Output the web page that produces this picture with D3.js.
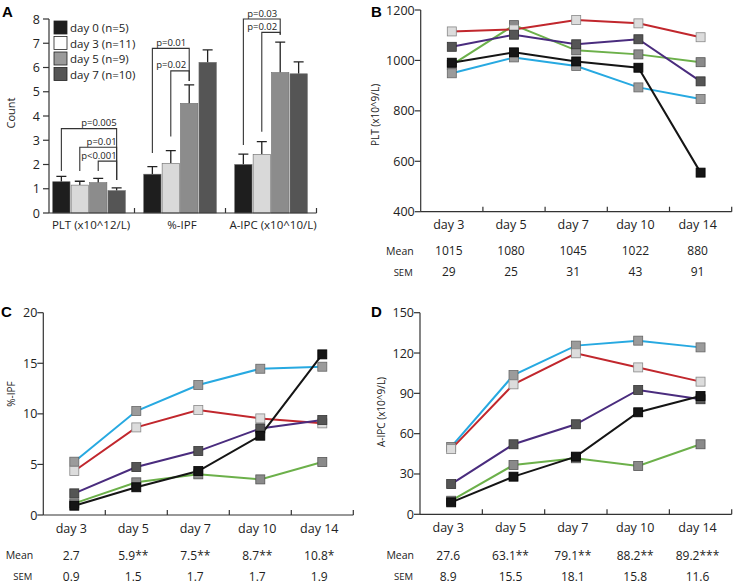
<!DOCTYPE html>
<html><head><meta charset="utf-8">
<script src="https://cdn.jsdelivr.net/npm/d3@7"></script>
<style>
body{margin:0;background:#fff;}
svg{display:block;font-family:"Open Sans",sans-serif;}
</style></head>
<body><svg id="c" width="736" height="584"></svg>
<script>
// ---------- Panel A data ----------
const groupsA = ["PLT (x10^12/L)", "%-IPF", "A-IPC (x10^10/L)"];
const seriesA = ["day 0 (n=5)", "day 3 (n=11)", "day 5 (n=9)", "day 7 (n=10)"];
const meanA_PLT = [1.29, 1.15, 1.25, 0.92];
const meanA_IPF = [1.60, 2.05, 4.52, 6.21];
const meanA_IPC = [2.00, 2.42, 5.79, 5.74];
const semA_PLT = [0.22, 0.16, 0.18, 0.12];
const semA_IPF = [0.31, 0.52, 0.76, 0.52];
const semA_IPC = [0.43, 0.52, 1.26, 0.49];
const ticksA = [0, 1, 2, 3, 4, 5, 6, 7, 8];
// significance brackets: group, bar a, bar b, level, left drop, right drop, label
const bracketsA = [
  {g: 0, a: 0, b: 3, y: 3.48, ya: 1.73, yb: 1.36, label: "p=0.005"},
  {g: 0, a: 1, b: 3, y: 2.71, ya: 1.73, yb: 1.36, label: "p=0.01"},
  {g: 0, a: 2, b: 3, y: 2.14, ya: 1.73, yb: 1.36, label: "p<0.001"},
  {g: 1, a: 0, b: 2, y: 6.79, ya: 2.47, yb: 5.44, label: "p=0.01"},
  {g: 1, a: 1, b: 2, y: 5.86, ya: 3.15, yb: 5.44, label: "p=0.02"},
  {g: 2, a: 0, b: 2, y: 8.00, ya: 2.80, yb: 7.35, label: "p=0.03"},
  {g: 2, a: 1, b: 2, y: 7.45, ya: 3.35, yb: 7.35, label: "p=0.02"}
];

// ---------- Line panels data ----------
const days = ["day 3", "day 5", "day 7", "day 10", "day 14"];
// Panel B: PLT
const pltRed    = [1115, 1123, 1160, 1147, 1092];
const pltPurple = [1054, 1102, 1064, 1084, 917];
const pltGreen  = [982, 1140, 1040, 1024, 993];
const pltBlack  = [991, 1032, 996, 971, 555];
const pltBlue   = [949, 1012, 978, 893, 847];
const pltMean = ["1015", "1080", "1045", "1022", "880"];
const pltSEM  = ["29", "25", "31", "43", "91"];
const ticksB = [400, 600, 800, 1000, 1200];
// Panel C: %-IPF
const ipfRed    = [4.35, 8.66, 10.38, 9.55, 9.06];
const ipfPurple = [2.14, 4.74, 6.32, 8.56, 9.39];
const ipfGreen  = [1.15, 3.23, 4.02, 3.52, 5.24];
const ipfBlack  = [0.92, 2.74, 4.35, 7.84, 15.88];
const ipfBlue   = [5.27, 10.28, 12.85, 14.46, 14.66];
const ipfMean = ["2.7", "5.9**", "7.5**", "8.7**", "10.8*"];
const ipfSEM  = ["0.9", "1.5", "1.7", "1.7", "1.9"];
const ticksC = [0, 5, 10, 15, 20];
// Panel D: A-IPC
const ipcRed    = [48.5, 96.7, 119.8, 109.3, 98.7];
const ipcPurple = [22.5, 52.1, 67.0, 92.5, 85.6];
const ipcGreen  = [10.1, 36.7, 41.7, 35.9, 52.1];
const ipcBlack  = [8.9, 28.0, 42.9, 75.9, 88.0];
const ipcBlue   = [50.1, 103.6, 125.5, 129.2, 124.2];
const ipcMean = ["27.6", "63.1**", "79.1**", "88.2**", "89.2***"];
const ipcSEM  = ["8.9", "15.5", "18.1", "15.8", "11.6"];
const ticksD = [0, 30, 60, 90, 120, 150];

// ---------- styles ----------
const barFill = ["#1e1e1e", "#d9d9d9", "#8c8c8c", "#555555"];
const legendFill = ["#1e1e1e", "#ffffff", "#9a9a9a", "#555555"];
const lineStyles = {
  green:  {line: "#6cb04a", mk: "#8a8a8a", mks: "#555"},
  blue:   {line: "#27a9e1", mk: "#9b9b9b", mks: "#666"},
  red:    {line: "#c1272d", mk: "#dcdcdc", mks: "#888"},
  purple: {line: "#4a2c7e", mk: "#555555", mks: "#333"},
  black:  {line: "#151515", mk: "#151515", mks: "#000"}
};
const AX = "#333";

const svg = d3.select("#c");

// ================= Panel A =================
(function(){
  const g = svg.append("g");
  const y = d3.scaleLinear().domain([0, 8]).range([213, 19]);
  const x0 = d3.scaleBand().domain(groupsA).range([43.5, 316.5]);
  const x1 = d3.scaleBand().domain(seriesA).range([0, x0.bandwidth()]).paddingInner(0.06).paddingOuter(0.5);
  const means = [meanA_PLT, meanA_IPF, meanA_IPC];
  const sems = [semA_PLT, semA_IPF, semA_IPC];
  const rows = [];
  groupsA.forEach((gn, gi) => seriesA.forEach((s, si) => rows.push({gn, gi, s, si, m: means[gi][si], e: sems[gi][si]})));
  const cx = d => x0(d.gn) + x1(d.s) + x1.bandwidth() / 2;
  // error bars
  g.selectAll(".eb").data(rows).join("path")
    .attr("d", d => `M${cx(d)},${y(d.m)}V${y(d.m + d.e)}M${cx(d) - 5},${y(d.m + d.e)}H${cx(d) + 5}`)
    .attr("stroke", "#222").attr("stroke-width", 1.3).attr("fill", "none");
  // bars
  g.selectAll(".bar").data(rows).join("rect")
    .attr("x", d => x0(d.gn) + x1(d.s)).attr("width", x1.bandwidth())
    .attr("y", d => y(d.m)).attr("height", d => y(0) - y(d.m))
    .attr("fill", d => barFill[d.si]).attr("stroke", "#6a6a6a").attr("stroke-width", 0.6);
  // brackets
  const bx = (gi, si) => x0(groupsA[gi]) + x1(seriesA[si]) + x1.bandwidth() / 2;
  g.selectAll(".br").data(bracketsA).join("path")
    .attr("d", d => `M${bx(d.g, d.a)},${y(d.ya)}V${y(d.y)}H${bx(d.g, d.b)}V${y(d.yb)}`)
    .attr("fill", "none").attr("stroke", "#333").attr("stroke-width", 1.1);
  g.selectAll(".brt").data(bracketsA).join("text")
    .attr("x", d => bx(d.g, d.b) - (d.g === 0 ? 0 : 3)).attr("y", d => y(d.y) - 2.5)
    .attr("text-anchor", "end").attr("font-size", 9.5).attr("fill", "#222").text(d => d.label);
  // y axis
  g.append("line").attr("x1", 49).attr("x2", 49).attr("y1", y(8)).attr("y2", y(0)).attr("stroke", AX).attr("stroke-width", 1.2);
  g.selectAll(".yt").data(ticksA).join("line")
    .attr("x1", 43).attr("x2", 49).attr("y1", d => y(d)).attr("y2", d => y(d)).attr("stroke", AX).attr("stroke-width", 1.2);
  g.selectAll(".ytl").data(ticksA).join("text")
    .attr("x", 40).attr("y", d => y(d) + 4.5).attr("text-anchor", "end").attr("font-size", 12.5).attr("fill", "#222").text(d => d);
  // x axis
  g.append("line").attr("x1", 49).attr("x2", x0.range()[1]).attr("y1", y(0)).attr("y2", y(0)).attr("stroke", AX).attr("stroke-width", 1.2);
  g.selectAll(".xt").data(groupsA).join("line")
    .attr("x1", d => x0(d) + x0.bandwidth()).attr("x2", d => x0(d) + x0.bandwidth())
    .attr("y1", y(0)).attr("y2", y(0) - 5).attr("stroke", AX).attr("stroke-width", 1.2);
  g.selectAll(".xl").data(groupsA).join("text")
    .attr("x", d => x0(d) + x0.bandwidth() / 2 + 2).attr("y", 229).attr("text-anchor", "middle")
    .attr("font-size", 11.5).attr("fill", "#222").text(d => d);
  // y label
  g.append("text").attr("transform", "translate(15,113) rotate(-90)").attr("text-anchor", "middle")
    .attr("font-size", 11).attr("fill", "#222").text("Count");
  // legend
  const lg = g.selectAll(".lg").data(seriesA).join("g").attr("transform", (d, i) => `translate(54,${21 + i * 15.5})`);
  lg.append("rect").attr("width", 13).attr("height", 13).attr("fill", (d, i) => legendFill[i]).attr("stroke", "#222").attr("stroke-width", 0.8);
  lg.append("text").attr("x", 16).attr("y", 11).attr("font-size", 11.5).attr("fill", "#222").text(d => d);
  // panel label
  g.append("text").attr("x", 2).attr("y", 17).attr("font-family", "Liberation Sans, Arial, sans-serif").attr("font-weight", "bold").attr("font-size", 15).text("A");
})();

// ================= Line panels =================
function linePanel(o){
  const g = svg.append("g");
  const x = d3.scaleBand().domain(days).range(o.xr);
  const y = d3.scaleLinear().domain(o.dom).range(o.yr);
  const cx = d => x(d) + x.bandwidth() / 2;
  const line = d3.line().x((v, i) => cx(days[i])).y(v => y(v));
  o.series.forEach(s => {
    const st = lineStyles[s.c];
    g.append("path").datum(s.v).attr("d", line).attr("fill", "none").attr("stroke", st.line).attr("stroke-width", 2);
  });
  o.series.forEach(s => {
    const st = lineStyles[s.c];
    g.selectAll(null).data(s.v).join("rect")
      .attr("x", (v, i) => cx(days[i]) - 4.5).attr("y", v => y(v) - 4.5)
      .attr("width", 9).attr("height", 9).attr("fill", st.mk).attr("stroke", st.mks).attr("stroke-width", 0.8);
  });
  // axes
  const x0 = o.xr[0];
  g.append("line").attr("x1", x0).attr("x2", x0).attr("y1", o.yr[1]).attr("y2", o.yr[0]).attr("stroke", AX).attr("stroke-width", 1.2);
  g.selectAll(".yt").data(o.ticks).join("line")
    .attr("x1", x0 - 6).attr("x2", x0).attr("y1", d => y(d)).attr("y2", d => y(d)).attr("stroke", AX).attr("stroke-width", 1.2);
  g.selectAll(".ytl").data(o.ticks).join("text")
    .attr("x", x0 - 6).attr("y", d => y(d) + 4.5).attr("text-anchor", "end").attr("font-size", 12.5).attr("fill", "#222").text(d => d);
  g.append("line").attr("x1", x0).attr("x2", o.xr[1]).attr("y1", o.yr[0]).attr("y2", o.yr[0]).attr("stroke", AX).attr("stroke-width", 1.2);
  g.selectAll(".xt").data(days).join("line")
    .attr("x1", d => x(d) + x.bandwidth()).attr("x2", d => x(d) + x.bandwidth())
    .attr("y1", o.yr[0]).attr("y2", o.yr[0] - 5).attr("stroke", AX).attr("stroke-width", 1.2);
  g.selectAll(".xl").data(days).join("text")
    .attr("x", d => cx(d) - 3).attr("y", o.rowY[0]).attr("text-anchor", "middle").attr("font-size", 12.5).attr("fill", "#222").text(d => d);
  g.selectAll(".mn").data(o.mean).join("text")
    .attr("x", (d, i) => cx(days[i]) - 3).attr("y", o.rowY[1]).attr("text-anchor", "middle").attr("font-size", 12).attr("fill", "#222").text(d => d);
  g.selectAll(".se").data(o.sem).join("text")
    .attr("x", (d, i) => cx(days[i]) - 3).attr("y", o.rowY[2]).attr("text-anchor", "middle").attr("font-size", 12).attr("fill", "#222").text(d => d);
  g.append("text").attr("x", x0 - o.labOff).attr("y", o.rowY[1] - 0.5).attr("text-anchor", "end").attr("font-size", 10.5).attr("fill", "#222").text("Mean");
  g.append("text").attr("x", x0 - o.labOff - 1).attr("y", o.rowY[2] - 0.5).attr("text-anchor", "end").attr("font-size", 9.5).attr("fill", "#222").text("SEM");
  g.append("text").attr("transform", `translate(${o.ylab[0]},${o.ylab[1]}) rotate(-90)`).attr("text-anchor", "middle")
    .attr("font-size", 10).attr("fill", "#222").text(o.ytitle);
  g.append("text").attr("x", o.pl[0]).attr("y", o.pl[1]).attr("font-family", "Liberation Sans, Arial, sans-serif")
    .attr("font-weight", "bold").attr("font-size", 15).text(o.panel);
}

linePanel({
  panel: "B", pl: [371, 17], xr: [420.7, 731.7], yr: [211.7, 10], dom: [400, 1200], ticks: ticksB,
  series: [{c: "green", v: pltGreen}, {c: "blue", v: pltBlue}, {c: "red", v: pltRed}, {c: "purple", v: pltPurple}, {c: "black", v: pltBlack}],
  mean: pltMean, sem: pltSEM, rowY: [228.5, 255, 276], labOff: 7, ytitle: "PLT (x10^9/L)", ylab: [379, 115]
});
linePanel({
  panel: "C", pl: [1, 317], xr: [43.3, 353.3], yr: [515, 312.7], dom: [0, 20], ticks: ticksC,
  series: [{c: "green", v: ipfGreen}, {c: "blue", v: ipfBlue}, {c: "red", v: ipfRed}, {c: "purple", v: ipfPurple}, {c: "black", v: ipfBlack}],
  mean: ipfMean, sem: ipfSEM, rowY: [532.5, 559.5, 580.5], labOff: 10, ytitle: "%-IPF", ylab: [15, 394]
});
linePanel({
  panel: "D", pl: [371, 317], xr: [420, 731.7], yr: [514.3, 312.7], dom: [0, 150], ticks: ticksD,
  series: [{c: "green", v: ipcGreen}, {c: "blue", v: ipcBlue}, {c: "red", v: ipcRed}, {c: "purple", v: ipcPurple}, {c: "black", v: ipcBlack}],
  mean: ipcMean, sem: ipcSEM, rowY: [532, 559.5, 580.5], labOff: 6, ytitle: "A-IPC (x10^9/L)", ylab: [385, 412]
});
</script></body></html>
